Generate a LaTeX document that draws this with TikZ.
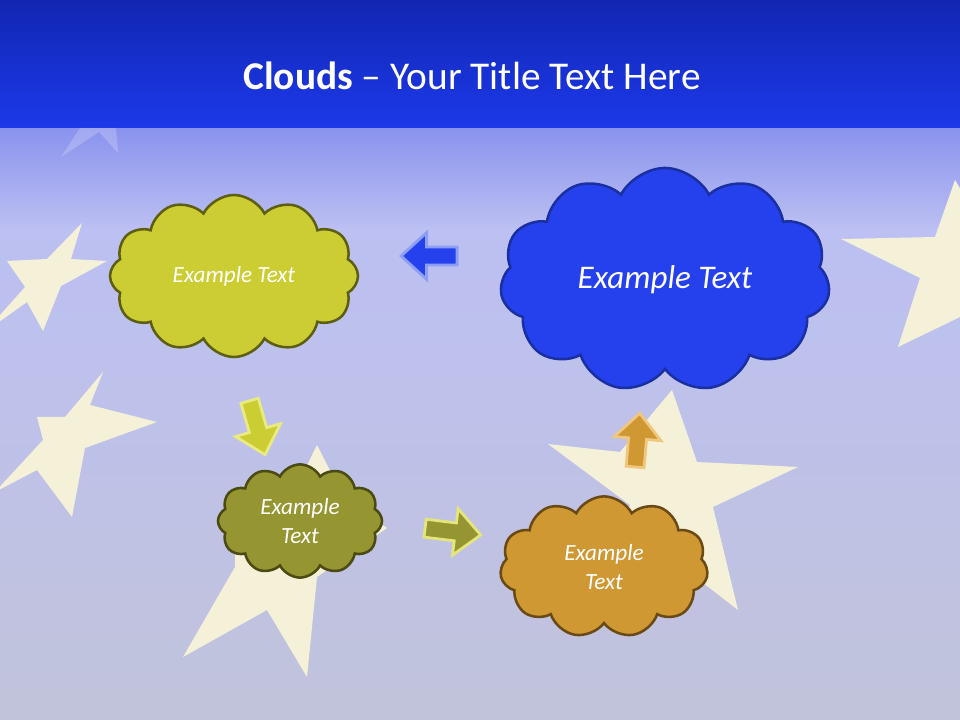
\documentclass[tikz,border=0pt]{standalone}
\usepackage{fontspec}
\setmainfont{Carlito}
\usetikzlibrary{shapes.symbols,shapes.arrows}
\definecolor{bandtop}{HTML}{1226B2}
\definecolor{bandbot}{HTML}{1C39EA}
\definecolor{skytop}{HTML}{8A93EE}
\definecolor{sky}{HTML}{BCC0F2}
\definecolor{skylow}{HTML}{C1C3DA}
\definecolor{starcream}{HTML}{F4F1D8}
\definecolor{lime}{HTML}{CCCC33}
\definecolor{limeline}{HTML}{5E5E12}
\definecolor{limeglow}{HTML}{E9EB80}
\definecolor{royal}{HTML}{2541EE}
\definecolor{royalline}{HTML}{1A2FA0}
\definecolor{royalglow}{HTML}{8E9EF4}
\definecolor{olivefill}{HTML}{959531}
\definecolor{oliveline}{HTML}{4A4A12}
\definecolor{oliveglow}{HTML}{E4E57A}
\definecolor{ochre}{HTML}{CF9833}
\definecolor{ochreline}{HTML}{6A4A14}
\definecolor{ochreglow}{HTML}{EFC77E}

\begin{document}
\begin{tikzpicture}[x=0.025cm, y=-0.025cm,
  star/.style={fill=starcream, draw=none},
  cloudbox/.style={cloud, cloud ignores aspect, cloud puffs=#1, cloud puff arc=125, draw, line width=1.8pt,
    text=white, align=center, inner sep=0pt, font=\fontsize{16.5}{20.5}\selectfont\itshape},
  arrowbox/.style={single arrow, minimum height=1.4cm, inner xsep=0pt, inner ysep=0.19cm,
    single arrow head extend=0.36cm, single arrow tip angle=85, line width=2pt},
  titletext/.style={text=white, font=\fontsize{28}{33}\selectfont, inner sep=0pt},
]
\useasboundingbox (0,0) rectangle (960,720);
\shade[top color=skytop, bottom color=sky] (0,128) rectangle (960,230);
\shade[top color=sky, bottom color=skylow] (0,229) rectangle (960,720);
\shade[top color=bandtop, bottom color=bandbot] (0,0) rectangle (960,128);
\fill[white, opacity=0.2] (61,157) -- (80,128) -- (116,128) -- (118,153) -- (99,132) -- cycle;

\begin{scope}
\clip (0,128) rectangle (960,720);
\fill[star] (7,261) -- (47,259) -- (82,223) -- (71,259) -- (107,261) -- (61,286) -- (43,331)
  -- (27,302) -- (-15,332) -- (25,287) -- cycle;
\fill[star] (37,417) -- (65,417) -- (103,372) -- (90,405) -- (157,422) -- (85,448) -- (72,517)
  -- (37,470) -- (-5,492) -- (43,440) -- cycle;
\fill[star] (235,510) -- (290,500) -- (317,445) -- (345,500) -- (387,528) -- (317,577) -- (307,677)
  -- (267,610) -- (183,657) -- (235,567) -- cycle;
\fill[star] (548,444) -- (620,452) -- (672,390) -- (697,462) -- (798,467) -- (713,507) -- (738,610)
  -- (680,565) -- (590,600) -- (630,505) -- cycle;
\fill[star] (841,239) -- (935,237) -- (955,180) -- (985,230) -- (1050,230) -- (990,270) -- (1010,360)
  -- (960,317) -- (898,347) -- (920,278) -- cycle;
\end{scope}

\node[titletext] (title) at (472,76) {\textbf{Clouds} – Your Title Text Here};

\node[cloudbox=12, fill=lime, draw=limeline, minimum width=6.2cm, minimum height=4.05cm] (cloudA) at (234,276) {Example Text};
\node[cloudbox=11, fill=royal, draw=royalline, minimum width=8.25cm, minimum height=5.6cm,
  font=\fontsize{23.5}{28}\selectfont\itshape] (cloudB) at (665,280) {Example Text};
\node[cloudbox=12, fill=olivefill, draw=oliveline, minimum width=4.1cm, minimum height=2.83cm] (cloudC) at (300,521) {Example\\Text};
\node[cloudbox=11, fill=ochre, draw=ochreline, minimum width=5.2cm, minimum height=3.53cm] (cloudD) at (604,567) {Example\\Text};

\node[arrowbox, fill=royal, draw=royalglow, rotate=180] (arrowBA) at (434,256) {};
\node[arrowbox, fill=lime, draw=limeglow, rotate=-74] (arrowAC) at (256,423) {};
\node[arrowbox, fill=olivefill, draw=oliveglow, rotate=-7] (arrowCD) at (448,531) {};
\node[arrowbox, fill=ochre, draw=ochreglow, rotate=85, minimum height=1.35cm] (arrowDB) at (637,445) {};
\end{tikzpicture}
\end{document}
